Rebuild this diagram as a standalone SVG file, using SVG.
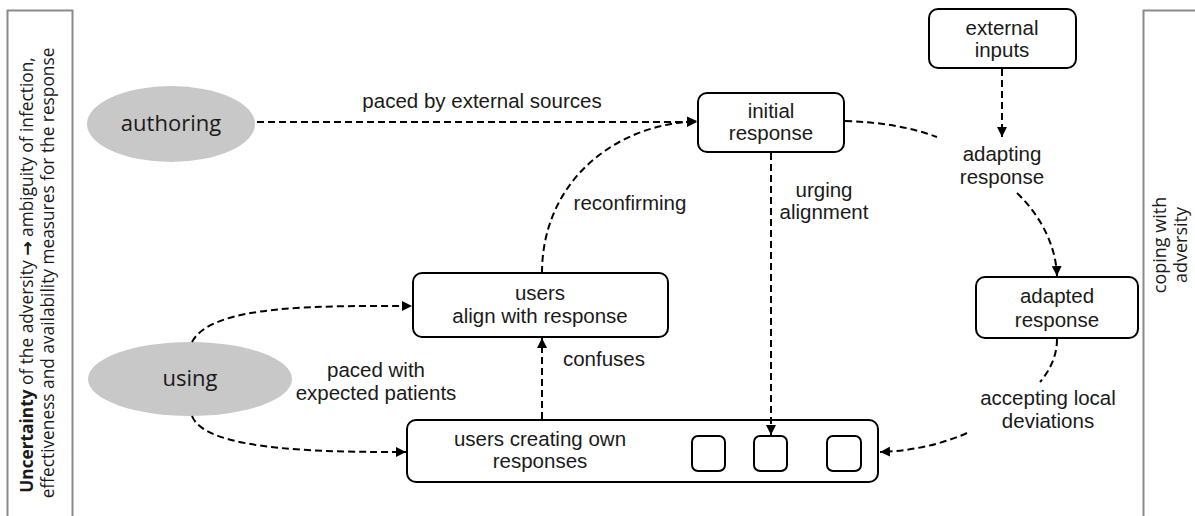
<svg xmlns="http://www.w3.org/2000/svg" width="1195" height="516" viewBox="0 0 1195 516">
  <defs>
    <marker id="arrow" viewBox="0 0 10 10" refX="10" refY="5" markerWidth="10" markerHeight="10" markerUnits="userSpaceOnUse" orient="auto">
      <path d="M0,0 L10,5 L0,10 z" fill="#000"/>
    </marker>
    <style>
      .box { fill: #fff; stroke: #000; stroke-width: 2; }
      .actor { fill: #c8c8c8; stroke: none; }
      .panel { fill: #fff; stroke: #8a8a8a; stroke-width: 2; }
      .edge { fill: none; stroke: #000; stroke-width: 2; stroke-dasharray: 7 4; }
      .lbl { font-family: "Liberation Sans", Arial, sans-serif; font-size: 20.5px; fill: #1a1a1a; text-anchor: middle; }
      .actor-lbl { font-family: "Open Sans", "Noto Sans", sans-serif; font-size: 22px; fill: #1a1a1a; text-anchor: middle; }
      .side { font-family: "Open Sans", "Noto Sans", sans-serif; font-size: 17.3px; fill: #1a1a1a; text-anchor: middle; }
      .side-r { font-family: "Open Sans", "Noto Sans", sans-serif; font-size: 18px; fill: #1a1a1a; text-anchor: middle; }
      .arrow-glyph { font-family: "DejaVu Sans", sans-serif; font-weight: bold; }
    </style>
  </defs>

  <rect width="1195" height="516" fill="#fff"/>

  <!-- side panels -->
  <g id="panel-uncertainty">
    <rect class="panel" x="7.5" y="10.5" width="65" height="530"/>
    <text class="side" transform="translate(33,275) rotate(-90)"><tspan font-weight="bold">Uncertainty</tspan> of the adversity <tspan class="arrow-glyph">→</tspan> ambiguity of infection,</text>
    <text class="side" transform="translate(54,273) rotate(-90)">effectiveness and availability measures for the response</text>
  </g>
  <g id="panel-coping">
    <rect class="panel" x="1143.5" y="10.5" width="70" height="530"/>
    <text class="side-r" transform="translate(1166,245) rotate(-90)">coping with</text>
    <text class="side-r" transform="translate(1187,245) rotate(-90)">adversity</text>
  </g>

  <!-- actors -->
  <g id="authoring">
    <ellipse class="actor" cx="171" cy="124" rx="84" ry="38"/>
    <text class="actor-lbl" x="171" y="131">authoring</text>
  </g>
  <g id="using">
    <ellipse class="actor" cx="190" cy="379" rx="102" ry="37"/>
    <text class="actor-lbl" x="190" y="386">using</text>
  </g>

  <!-- response nodes -->
  <g id="initial-response">
    <rect class="box" x="698" y="93" width="146" height="59" rx="9"/>
    <text class="lbl" x="771" y="118">initial</text>
    <text class="lbl" x="771" y="140">response</text>
  </g>
  <g id="external-inputs">
    <rect class="box" x="929" y="9" width="147" height="59" rx="9"/>
    <text class="lbl" x="1002" y="35">external</text>
    <text class="lbl" x="1002" y="57">inputs</text>
  </g>
  <g id="adapted-response">
    <rect class="box" x="976" y="277" width="162" height="61" rx="9"/>
    <text class="lbl" x="1057" y="303">adapted</text>
    <text class="lbl" x="1057" y="327">response</text>
  </g>
  <g id="users-align">
    <rect class="box" x="413" y="273" width="255" height="64" rx="9"/>
    <text class="lbl" x="540" y="300">users</text>
    <text class="lbl" x="540" y="323">align with response</text>
  </g>
  <g id="users-creating">
    <rect class="box" x="407" y="420" width="471" height="62" rx="9"/>
    <text class="lbl" x="540" y="446">users creating own</text>
    <text class="lbl" x="540" y="468">responses</text>
    <rect class="box" x="692" y="436" width="33" height="35" rx="6"/>
    <rect class="box" x="754" y="436" width="33" height="35" rx="6"/>
    <rect class="box" x="827" y="436" width="34" height="35" rx="6"/>
  </g>

  <!-- connectors, drawn over the nodes so the line into a slot stays visible -->
  <g id="connectors">
    <path class="edge" d="M257,122 L697,122" marker-end="url(#arrow)"/>
    <path class="edge" d="M542,273 C542,185 610,125 697,121" marker-end="url(#arrow)"/>
    <path class="edge" d="M771,153 L771,435" marker-end="url(#arrow)"/>
    <path class="edge" d="M542,419 L542,338" marker-end="url(#arrow)"/>
    <path class="edge" d="M192,342 C212,304 320,306 412,306" marker-end="url(#arrow)"/>
    <path class="edge" d="M192,416 C206,452 330,452 406,452" marker-end="url(#arrow)"/>
    <path class="edge" d="M1002,69 L1002,137" marker-end="url(#arrow)"/>
    <path class="edge" d="M845,121 C880,122 910,127 937,137"/>
    <path class="edge" d="M1017,193 C1040,215 1056,245 1057,276" marker-end="url(#arrow)"/>
    <path class="edge" d="M1057,339 C1057,356 1050,370 1040,382"/>
    <path class="edge" d="M967,433 C940,445 910,451 880,452" marker-end="url(#arrow)"/>
  </g>

  <!-- connector labels -->
  <g id="connector-labels">
    <text class="lbl" x="482" y="108">paced by external sources</text>
    <text class="lbl" x="630" y="210">reconfirming</text>
    <text class="lbl" x="824" y="197">urging</text>
    <text class="lbl" x="824" y="219">alignment</text>
    <text class="lbl" x="604" y="366">confuses</text>
    <text class="lbl" x="376" y="377">paced with</text>
    <text class="lbl" x="376" y="400">expected patients</text>
    <text class="lbl" x="1002" y="161">adapting</text>
    <text class="lbl" x="1002" y="184">response</text>
    <text class="lbl" x="1048" y="405">accepting local</text>
    <text class="lbl" x="1048" y="428">deviations</text>
  </g>
</svg>
